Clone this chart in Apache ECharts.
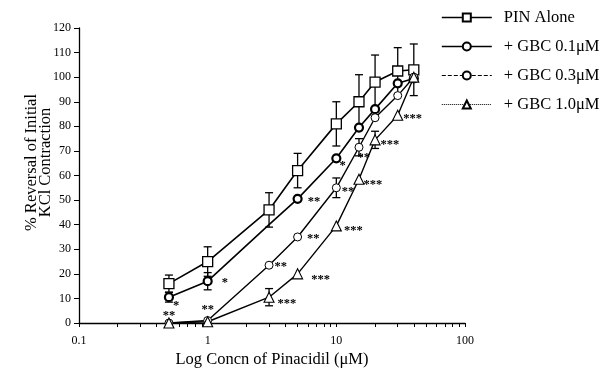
<!DOCTYPE html>
<html><head><meta charset="utf-8">
<script src="https://cdn.jsdelivr.net/npm/echarts@6/dist/echarts.min.js"></script>
<style>html,body{margin:0;padding:0;background:#fff}#c{width:607px;height:370px}</style>
</head><body><div id="c"></div>
<script>
// ---- data ----
const concs = [0.5, 1, 3, 5, 10, 15, 20, 30, 40];
const seriesNames = ['PIN Alone', '+ GBC 0.1\u03bcM', '+ GBC 0.3\u03bcM', '+ GBC 1.0\u03bcM'];
const pinAlone = [16, 25, 46, 62, 81, 90, 98, 102.5, 103];
const gbc01 = [10.5, 17, 40, 50.5, 67, 79.5, 87, 97.5, 99.5];
const gbc03 = [0, 1, 23.5, 35, 55, 71.5, 83.5, 92.5, 100];
const gbc10 = [0, 0.5, 10.5, 20, 39.5, 58.5, 74.5, 84.5, 100];
const errPin = [3.5, 6, 7, 7, 9, 11, 11, 9.5, 10.5];
const err01 = [2, 3.5, 0, 0, 0, 0, 0, 0, 0];
const err03 = [0, 0, 0, 0, 4, 3.5, 0, 0, 0];
const err10 = [0, 0, 3.5, 0, 0, 0, 3.5, 0, 0];
const sigPin = ['', '', '', '', '', '', '', '', ''];
const sig01 = ['*', '*', '**', '**', '*', '', '', '', ''];
const sig03 = ['**', '', '**', '**', '**', '**', '', '', ''];
const sig10 = ['', '**', '***', '***', '***', '***', '***', '***', ''];
const hiddenMarker01 = [false, false, true, false, false, false, false, false, false];
const xMinorTickValues = [0.1,0.2,0.3,0.4,0.5,0.6,0.7,0.8,0.9,1,2,3,4,5,6,7,8,9,10,20,30,40,50,60,70,80,90,100];
const xAxisTitle = 'Log Concn of Pinacidil (\u03bcM)';
const yAxisTitle = '% Reversal of Initial\nKCl Contraction';

// ---- label placement (style only) ----
const posPin = [[0,0],[0,0],[0,0],[0,0],[0,0],[0,0],[0,0],[0,0],[0,0]];
const pos01 = [[-6,9],[4,2],[-8,10],[0,3],[-7,7],[0,0],[0,0],[0,0],[0,0]];
const pos03 = [['top',0,9],[0,0],[-4,2],[0,2],[-4,4],[-11,11],[0,0],[0,0],[0,0]];
const pos10 = [[0,0],['top',0,5],[-2,7],[3,6],[-3,5],[-6,6],[-5,5],[-5,3],[0,0]];

const FONT = '"Liberation Serif", "DejaVu Serif", serif';
const chart = echarts.init(document.getElementById('c'), null, {renderer: 'canvas'});

function lineData(vals, sig, pos, hidden) {
  return concs.map((c, i) => {
    const item = {value: [c, vals[i]]};
    if (hidden && hidden[i]) item.symbol = 'none';
    if (sig[i]) {
      const p = pos[i];
      const isTop = p[0] === 'top';
      item.label = {
        show: true, formatter: sig[i],
        position: isTop ? 'top' : 'right',
        offset: isTop ? [p[1], p[2]] : [p[0], p[1]],
        fontFamily: FONT, fontSize: 12.5, fontWeight: 'bold', color: '#000', distance: 5
      };
    }
    return item;
  });
}
function errData(vals, errs) {
  return concs.map((c, i) => [c, vals[i], errs[i]]).filter(d => d[2] > 0);
}
function errSeries(vals, errs) {
  return {
    type: 'custom', silent: true, z: 1,
    data: errData(vals, errs),
    renderItem: function (params, api) {
      const x = api.value(0), y = api.value(1), e = api.value(2);
      const top = api.coord([x, y + e]);
      const bot = api.coord([x, y - e]);
      const w = 4;
      const st = {stroke: '#000', lineWidth: 1.3};
      return {type: 'group', children: [
        {type: 'line', shape: {x1: top[0], y1: top[1], x2: bot[0], y2: bot[1]}, style: st},
        {type: 'line', shape: {x1: top[0]-w, y1: top[1], x2: top[0]+w, y2: top[1]}, style: st},
        {type: 'line', shape: {x1: bot[0]-w, y1: bot[1], x2: bot[0]+w, y2: bot[1]}, style: st}
      ]};
    }
  };
}
function lineSeries(name, vals, sig, pos, symbol, size, lw, bw, hidden) {
  return {
    name: name, type: 'line', z: 3,
    data: lineData(vals, sig, pos, hidden),
    symbol: symbol, symbolSize: size,
    lineStyle: {color: '#000', width: lw},
    itemStyle: {color: '#fff', borderColor: '#000', borderWidth: bw},
    emphasis: {disabled: true},
    animation: false
  };
}

const option = {
  animation: false,
  backgroundColor: '#fff',
  grid: {left: 79, right: 142, top: 28, bottom: 47, containLabel: false, outerBoundsMode: 'none'},
  legend: {
    orient: 'vertical', left: 436, top: 4,
    itemWidth: 50, itemHeight: 10, itemGap: 12,
    textStyle: {fontFamily: FONT, fontSize: 16.5, color: '#000', padding: [0, 0, 0, 7]},
    data: [
      {name: seriesNames[0], lineStyle: {type: 'solid', width: 1.3}},
      {name: seriesNames[1], lineStyle: {type: 'solid', width: 1.6}},
      {name: seriesNames[2], lineStyle: {type: 'dashed', width: 1}},
      {name: seriesNames[3], lineStyle: {type: 'dotted', width: 1}}
    ]
  },
  xAxis: {
    type: 'log', logBase: 10, min: 0.1, max: 100,
    name: xAxisTitle, nameLocation: 'middle', nameGap: 28, nameMoveOverlap: false,
    nameTextStyle: {fontFamily: FONT, fontSize: 16.5, color: '#000'},
    axisLine: {lineStyle: {color: '#000', width: 1.3}},
    axisTick: {show: true, inside: false, length: 4, lineStyle: {color: '#000', width: 1}, customValues: xMinorTickValues},
    axisLabel: {fontFamily: FONT, fontSize: 12, color: '#000', margin: 12},
    splitLine: {show: false}
  },
  yAxis: {
    type: 'value', min: 0, max: 120, interval: 10,
    name: yAxisTitle, nameLocation: 'middle', nameGap: 26, nameRotate: 90, nameMoveOverlap: false,
    nameTextStyle: {fontFamily: FONT, fontSize: 16.5, color: '#000', lineHeight: 14, padding: [0, 0, 0, 26]},
    axisLine: {show: true, lineStyle: {color: '#000', width: 1.3}},
    axisTick: {show: true, length: 5, lineStyle: {color: '#000', width: 1}},
    axisLabel: {fontFamily: FONT, fontSize: 12, color: '#000', margin: 8},
    splitLine: {show: false}
  },
  series: [
    errSeries(pinAlone, errPin),
    errSeries(gbc01, err01),
    errSeries(gbc03, err03),
    errSeries(gbc10, err10),
    lineSeries(seriesNames[0], pinAlone, sigPin, posPin, 'rect', 10, 1.6, 1.3),
    lineSeries(seriesNames[1], gbc01, sig01, pos01, 'circle', 8, 1.6, 2.2, hiddenMarker01),
    lineSeries(seriesNames[2], gbc03, sig03, pos03, 'circle', 8, 1.4, 1),
    lineSeries(seriesNames[3], gbc10, sig10, pos10, 'triangle', 10, 1.4, 1.1)
  ]
};
chart.setOption(option);
</script>
</body></html>
